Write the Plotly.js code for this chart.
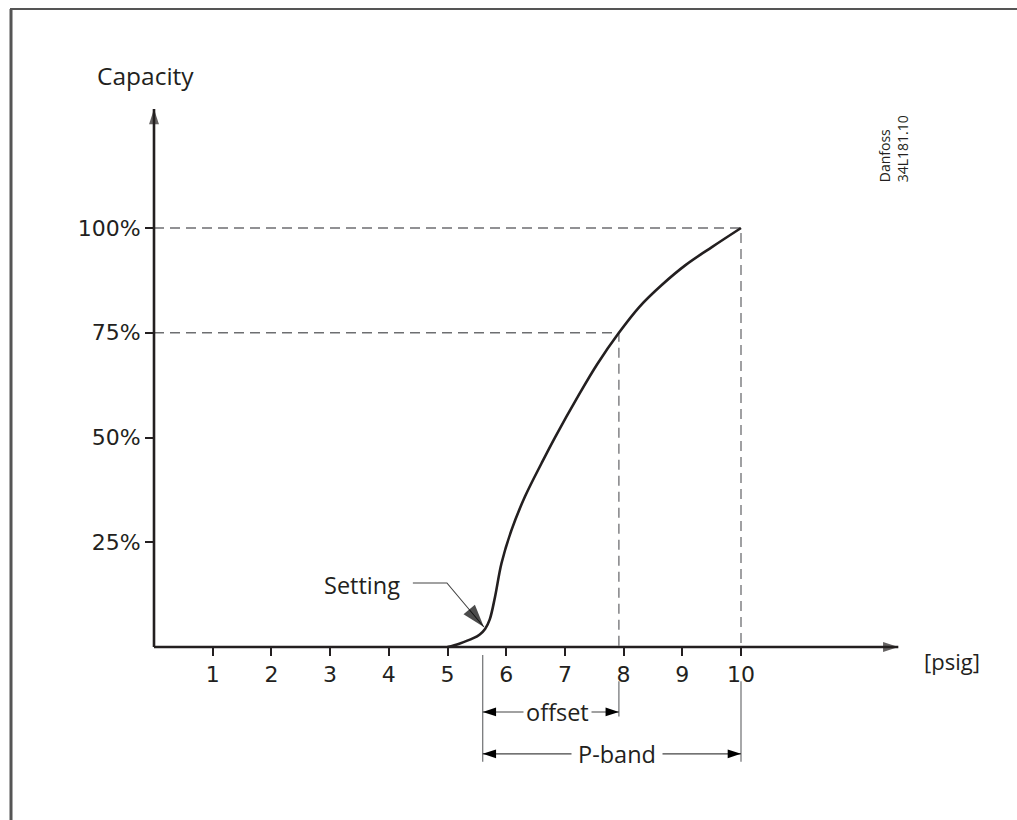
<!DOCTYPE html>
<html>
<head>
<meta charset="utf-8">
<script src="https://cdn.plot.ly/plotly-3.0.1.min.js"></script>
<style>html,body{margin:0;padding:0;background:#fff;}#chart{width:1017px;height:820px;}</style>
</head>
<body>
<div id="chart"></div>
<script>
// ---- data ----
const pressure = [5.0, 5.2, 5.44, 5.55, 5.64, 5.72, 5.81, 5.92, 6.09, 6.32, 6.60, 6.83, 7.23, 7.55, 7.92, 8.27, 8.65, 9.06, 9.51, 10.0];
const capacity = [0, 0.8, 2.1, 3.0, 4.3, 6.6, 12.0, 20.0, 27.9, 35.9, 43.8, 50, 60, 67.5, 75, 81.2, 86.4, 91.2, 95.5, 100];
const xTickVals = [1, 2, 3, 4, 5, 6, 7, 8, 9, 10];
const xTickText = ['1', '2', '3', '4', '5', '6', '7', '8', '9', '10'];
const yTickVals = [25, 50, 75, 100];
const yTickText = ['25%', '50%', '75%', '100%'];
const settingP = 5.6;      // setting pressure
const offsetEndP = 7.92;   // pressure at 75 %
const pbandEndP = 10;      // pressure at 100 %
const xAxisEnd = 12.68;
const yAxisEnd = 128.4;

const ink = '#231f20';
const dashCol = '#6d6e71';

const traces = [];
// dashed guides
traces.push({x:[0, offsetEndP, offsetEndP], y:[75, 75, 0], mode:'lines', line:{color:dashCol, width:1.3, dash:'10px,6px'}, hoverinfo:'skip'});
traces.push({x:[0, pbandEndP, pbandEndP], y:[100, 100, 0], mode:'lines', line:{color:dashCol, width:1.3, dash:'10px,6px'}, hoverinfo:'skip'});
// extension lines below axis
traces.push({x:[settingP, settingP], y:[-1.9, -27.4], mode:'lines', line:{color:dashCol, width:1.2}, hoverinfo:'skip'});
traces.push({x:[offsetEndP, offsetEndP], y:[-8.2, -16.6], mode:'lines', line:{color:dashCol, width:1.2}, hoverinfo:'skip'});
traces.push({x:[pbandEndP, pbandEndP], y:[-8.2, -27.4], mode:'lines', line:{color:dashCol, width:1.2}, hoverinfo:'skip'});
// axes with arrowheads
traces.push({x:[0, xAxisEnd], y:[0, 0], mode:'lines+markers', line:{color:ink, width:2.6},
  marker:{symbol:'arrow', size:[0, 16], angle:[90, 90], color:ink, line:{width:0}}, hoverinfo:'skip'});
traces.push({x:[0, 0], y:[0, yAxisEnd], mode:'lines+markers', line:{color:ink, width:2.6},
  marker:{symbol:'arrow', size:[0, 16], angle:[0, 0], color:ink, line:{width:0}}, hoverinfo:'skip'});
// capacity curve
traces.push({x:pressure, y:capacity, mode:'lines', line:{color:ink, width:2.6, shape:'spline', smoothing:1}, hoverinfo:'skip'});
// setting leader
traces.push({x:[4.41, 4.99, 5.62], y:[15.27, 15.27, 4.77], mode:'lines+markers', line:{color:'#444', width:1.1},
  marker:{symbol:'arrow', size:[0, 0, 24], angleref:'previous', color:'#000', line:{width:0}}, hoverinfo:'skip'});
// dimension arrows
traces.push({x:[settingP, offsetEndP], y:[-15.5, -15.5], mode:'lines+markers', line:{color:'#444', width:1.1},
  marker:{symbol:'arrow', size:14, angle:[270, 90], color:'#000', line:{width:0}}, hoverinfo:'skip'});
traces.push({x:[settingP, pbandEndP], y:[-25.5, -25.5], mode:'lines+markers', line:{color:'#444', width:1.1},
  marker:{symbol:'arrow', size:14, angle:[270, 90], color:'#000', line:{width:0}}, hoverinfo:'skip'});

const txtFont = {family:'Open Sans, sans-serif', size:23.5, color:ink};
const tickFont = {family:'DejaVu Sans, sans-serif', size:22, color:ink};
const layout = {
  width:1017, height:820,
  margin:{l:0, r:0, t:0, b:0},
  paper_bgcolor:'#fff', plot_bgcolor:'#fff',
  showlegend:false,
  xaxis:{range:[-2.6235, 14.7019], domain:[0,1], anchor:'free', position:0.21098,
    showgrid:false, zeroline:false, showline:false,
    tickmode:'array', tickvals:xTickVals, ticktext:xTickText,
    ticks:'outside', ticklen:8, tickwidth:2, tickcolor:ink, tickfont:tickFont},
  yaxis:{range:[-41.289, 154.42], domain:[0,1], anchor:'free', position:0.15143,
    showgrid:false, zeroline:false, showline:false,
    tickmode:'array', tickvals:yTickVals, ticktext:yTickText,
    ticks:'outside', ticklen:9, tickwidth:2, tickcolor:ink, tickfont:tickFont},
  shapes:[
    {type:'line', xref:'paper', yref:'paper', x0:11/1017, x1:11/1017, y0:0, y1:1-9/820, line:{color:'#555', width:3}},
    {type:'line', xref:'paper', yref:'paper', x0:10/1017, x1:1, y0:1-9/820, y1:1-9/820, line:{color:'#555', width:2}}
  ],
  annotations:[
    {x:-1.005, y:136.5, xanchor:'left', yanchor:'middle', text:'Capacity', showarrow:false, font:Object.assign({}, txtFont, {size:24.5})},
    {x:13.08, y:-3.3, xanchor:'left', yanchor:'middle', text:'[psig]', showarrow:false, font:Object.assign({}, txtFont, {size:22})},
    {x:4.22, y:14.8, xanchor:'right', yanchor:'middle', text:'Setting', showarrow:false, font:txtFont},
    {x:6.87, y:-15.5, xanchor:'center', yanchor:'middle', text:'offset', showarrow:false, font:txtFont, bgcolor:'#fff', borderpad:2},
    {x:7.88, y:-25.5, xanchor:'center', yanchor:'middle', text:'P-band', showarrow:false, font:txtFont, bgcolor:'#fff', borderpad:6},
    {x:12.59, y:118.8, xanchor:'center', yanchor:'middle', text:'Danfoss<br>34L181.10', textangle:-90, align:'left', showarrow:false,
      font:{family:'Open Sans, sans-serif', size:14, color:ink}}
  ]
};
Plotly.newPlot('chart', traces, layout, {displayModeBar:false, staticPlot:true});
</script>
</body>
</html>
